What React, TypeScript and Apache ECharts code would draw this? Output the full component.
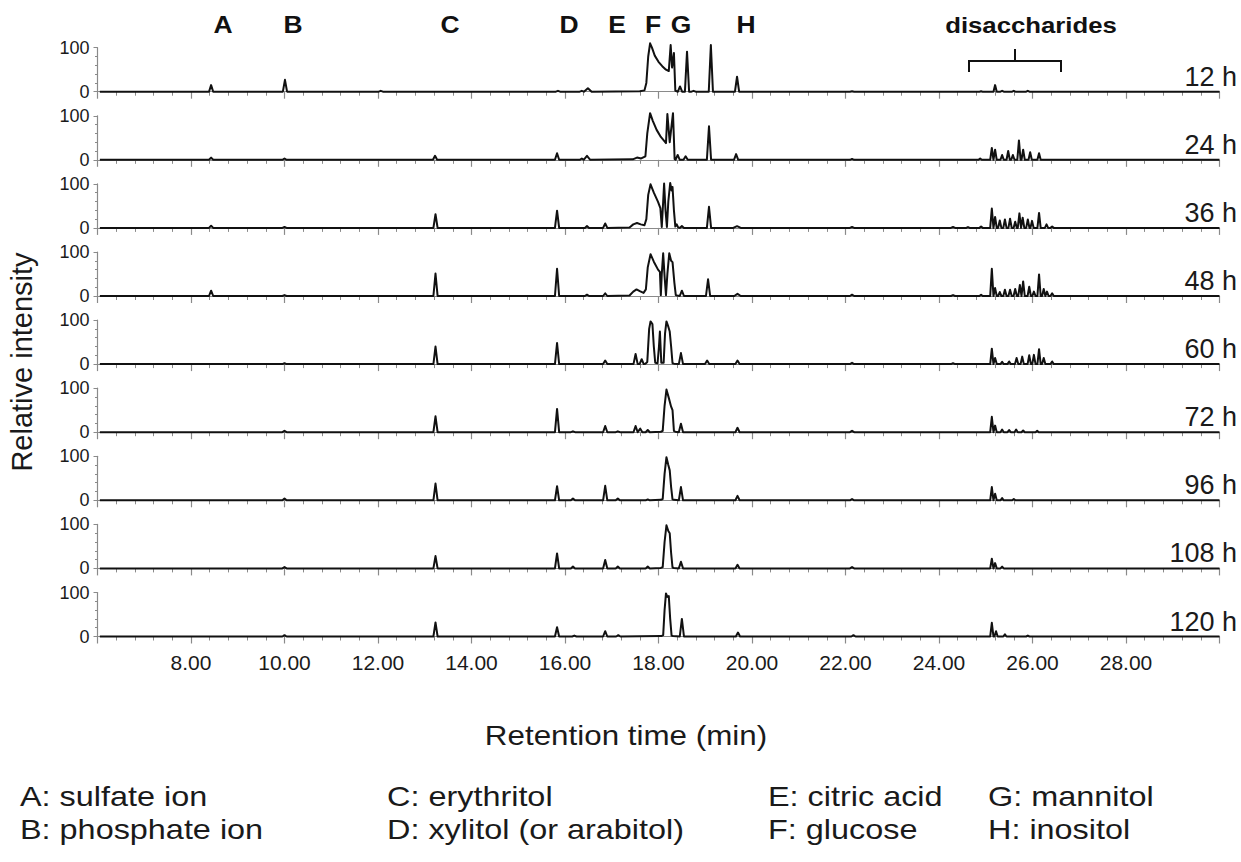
import React, { useEffect, useRef } from "react";
import * as echarts from "echarts";

type Pk = [number, number, number?];
type P = [number, number];

const panelLabels = ["12 h", "24 h", "36 h", "48 h", "60 h", "72 h", "96 h", "108 h", "120 h"];
const xLabelValues = [8, 10, 12, 14, 16, 18, 20, 22, 24, 26, 28];

// simple peaks: [time (min), relative intensity, half width]
const peaks12: Pk[] = [[8.43, 15], [10.01, 27], [12.06, 2], [15.85, 2], [16.36, 2], [16.49, 8, 0.08], [18.46, 12], [18.61, 91], [18.75, 2], [19.12, 106], [19.68, 34], [22.14, 1], [24.9, 1], [25.2, 15], [25.35, 2], [25.6, 2], [25.9, 2]];
const shape12: P[] = [[17.6, 1], [17.7, 3], [17.74, 20], [17.78, 80], [17.82, 110], [17.86, 100], [17.92, 82], [18.0, 68], [18.08, 58], [18.16, 50], [18.22, 47], [18.26, 106], [18.29, 55], [18.33, 88], [18.36, 2], [18.39, 1]];

const peaks24: Pk[] = [[8.43, 5], [10.0, 3], [13.22, 9], [15.83, 15], [16.36, 3], [16.47, 9, 0.07], [18.41, 11], [18.58, 8], [19.08, 76], [19.66, 13], [22.14, 2], [24.88, 3], [25.13, 27], [25.2, 23], [25.35, 11], [25.48, 20], [25.58, 11], [25.71, 44], [25.8, 23], [25.95, 17], [26.14, 15]];
const shape24: P[] = [[17.45, 1], [17.54, 5], [17.63, 3], [17.72, 8], [17.76, 60], [17.82, 106], [17.88, 88], [17.96, 68], [18.05, 52], [18.13, 42], [18.16, 38], [18.19, 104], [18.24, 40], [18.31, 106], [18.345, 2], [18.37, 1]];

const peaks36: Pk[] = [[8.43, 5], [10.0, 2], [13.23, 31], [15.83, 39], [16.47, 4], [16.86, 10], [18.5, 4], [19.08, 48], [19.68, 4, 0.08], [22.14, 2], [24.3, 2], [24.62, 2], [24.9, 3], [25.13, 44], [25.2, 25], [25.3, 17], [25.41, 19], [25.52, 21], [25.63, 14], [25.72, 33], [25.79, 23], [25.9, 19], [25.99, 16], [26.14, 34], [26.3, 8], [26.42, 3]];
const shape36: P[] = [[17.38, 1], [17.46, 8], [17.54, 11], [17.62, 8], [17.7, 6], [17.74, 20], [17.78, 75], [17.83, 99], [17.9, 80], [17.99, 59], [18.04, 45], [18.07, 2], [18.1, 60], [18.12, 101], [18.15, 40], [18.18, 2], [18.21, 60], [18.25, 102], [18.28, 85], [18.3, 93], [18.33, 40], [18.36, 3], [18.39, 8], [18.42, 1]];

const peaks48: Pk[] = [[8.43, 12], [10.0, 2], [13.23, 51], [15.83, 62], [16.47, 3], [16.86, 6], [18.5, 12], [19.06, 38], [19.69, 5, 0.07], [22.14, 3], [24.3, 2], [24.9, 3], [25.13, 62], [25.2, 18], [25.3, 9], [25.41, 14], [25.52, 14], [25.63, 16], [25.73, 25], [25.8, 33], [25.93, 21], [26.03, 10], [26.14, 49], [26.24, 16], [26.31, 10], [26.42, 6]];
const shape48: P[] = [[17.38, 1], [17.46, 10], [17.53, 15], [17.6, 11], [17.68, 7], [17.73, 15], [17.77, 65], [17.83, 95], [17.9, 78], [17.99, 60], [18.03, 55], [18.05, 2], [18.07, 50], [18.1, 97], [18.13, 45], [18.16, 2], [18.19, 50], [18.23, 97], [18.27, 80], [18.3, 77], [18.34, 30], [18.37, 2], [18.4, 1]];

const peaks60: Pk[] = [[10.0, 2], [13.23, 40], [15.83, 48], [16.86, 8], [17.51, 23], [17.64, 11], [18.48, 25], [19.04, 8], [19.69, 8], [22.14, 3], [24.3, 2], [25.13, 35], [25.2, 14], [25.35, 5], [25.5, 6], [25.66, 14], [25.78, 17], [25.93, 20], [26.03, 21], [26.14, 34], [26.24, 14], [26.42, 6]];
const shape60: P[] = [[17.72, 1], [17.76, 5], [17.8, 80], [17.83, 97], [17.87, 91], [17.9, 40], [17.93, 3], [17.98, 2], [18.01, 40], [18.03, 74], [18.06, 3], [18.11, 3], [18.14, 70], [18.17, 97], [18.21, 85], [18.24, 74], [18.27, 40], [18.3, 2], [18.33, 1]];

const peaks72: Pk[] = [[10.0, 3], [13.23, 36], [15.83, 53], [16.17, 2], [16.86, 14], [17.13, 2], [17.51, 14], [17.61, 8], [17.77, 5], [18.48, 19], [19.69, 10], [22.14, 3], [25.13, 35], [25.2, 15], [25.35, 6], [25.5, 5], [25.65, 6], [25.8, 4], [26.1, 3]];
const shape72: P[] = [[18.05, 1], [18.09, 3], [18.13, 60], [18.17, 97], [18.22, 78], [18.27, 58], [18.3, 50], [18.33, 3], [18.36, 1]];

const peaks96: Pk[] = [[10.0, 4], [13.23, 38], [15.83, 32], [16.17, 4], [16.86, 33], [17.13, 4], [17.77, 2], [18.48, 30], [19.69, 10], [22.14, 3], [25.13, 30], [25.2, 15], [25.35, 5], [25.6, 3]];
const shape96: P[] = [[18.05, 1], [18.09, 3], [18.13, 60], [18.17, 98], [18.21, 80], [18.24, 68], [18.27, 30], [18.3, 2], [18.33, 1]];

const peaks108: Pk[] = [[10.0, 3], [13.23, 28], [15.83, 34], [16.17, 4], [16.86, 19], [17.13, 4], [17.77, 4], [18.48, 15], [19.69, 8], [22.14, 3], [25.13, 22], [25.2, 12], [25.35, 4]];
const shape108: P[] = [[18.05, 1], [18.09, 3], [18.13, 60], [18.17, 98], [18.21, 85], [18.24, 80], [18.27, 35], [18.3, 2], [18.33, 1]];

const peaks120: Pk[] = [[10.0, 3], [13.23, 32], [15.83, 21], [16.2, 2], [16.86, 12], [17.14, 3], [18.5, 40], [19.7, 9], [22.17, 3], [25.13, 31], [25.22, 12], [25.41, 5], [25.9, 2]];
const shape120: P[] = [[18.06, 1], [18.1, 3], [18.13, 60], [18.16, 98], [18.19, 90], [18.22, 92], [18.25, 40], [18.28, 2], [18.31, 1]];

const allPeaks = [peaks12, peaks24, peaks36, peaks48, peaks60, peaks72, peaks96, peaks108, peaks120];
const allShapes = [shape12, shape24, shape36, shape48, shape60, shape72, shape96, shape108, shape120];

const compoundLabels: [string, number][] = [["A", 223], ["B", 293], ["C", 450], ["D", 569], ["E", 617], ["F", 653], ["G", 681], ["H", 746]];
const legendRows: [string, number, number][] = [
  ["A: sulfate ion", 20, 0], ["C: erythritol", 387, 0], ["E: citric acid", 768, 0], ["G: mannitol", 988, 0],
  ["B: phosphate ion", 20, 1], ["D: xylitol (or arabitol)", 387, 1], ["F: glucose", 768, 1], ["H: inositol", 988, 1],
];

const X_MIN = 6;
const X_MAX = 30;

function buildTrace(peaks: Pk[], shape: P[]): P[] {
  const pts: P[] = [[6.05, 0], [30.0, 0]];
  peaks.forEach(([t, h, w]) => {
    const hw = w ?? (t > 24.5 && t < 26.6 ? 0.035 : 0.045);
    pts.push([t - hw, 0], [t, h], [t + hw, 0]);
  });
  shape.forEach((p) => pts.push(p));
  pts.sort((a, b) => a[0] - b[0]);
  return pts;
}

const FONT = "'Liberation Sans', Arial, Helvetica, sans-serif";

export default function App() {
  const ref = useRef<HTMLDivElement>(null);
  useEffect(() => {
    document.body.style.margin = "0";
    const chart = echarts.init(ref.current!, undefined, { renderer: "svg" });
    const n = panelLabels.length;
    const base0 = 91.7;
    const step = 68.1;
    const ph = 44;
    const left = 97.5;
    const width = 1122;
    const grids: any[] = [];
    const xAxes: any[] = [];
    const yAxes: any[] = [];
    const series: any[] = [];
    const graphics: any[] = [];
    for (let i = 0; i < n; i++) {
      const baseline = base0 + i * step;
      grids.push({ left, width, top: baseline - ph, height: ph });
      xAxes.push({
        type: "value", gridIndex: i, min: X_MIN, max: X_MAX, interval: 2,
        axisLine: { show: true, lineStyle: { color: "#8a8a8a", width: 1.2 } },
        axisTick: { show: true, length: 7, lineStyle: { color: "#8a8a8a", width: 1.2 } },
        minorTick: { show: true, splitNumber: 5, length: 4, lineStyle: { color: "#8a8a8a", width: 1 } },
        splitLine: { show: false },
        axisLabel: {
          show: i === n - 1, fontSize: 21, color: "#1a1a1a", fontFamily: FONT, margin: 15,
          formatter: (v: number) => (xLabelValues.includes(v) ? v.toFixed(2) : ""),
        },
      });
      yAxes.push({
        type: "value", gridIndex: i, min: 0, max: 100, interval: 100,
        axisLine: { show: true, lineStyle: { color: "#8a8a8a", width: 1.2 } },
        axisTick: { show: true, length: 4, lineStyle: { color: "#8a8a8a" } },
        minorTick: { show: true, splitNumber: 5, length: 2.5, lineStyle: { color: "#8a8a8a" } },
        splitLine: { show: false },
        axisLabel: { fontSize: 18, color: "#1a1a1a", fontFamily: FONT, margin: 8 },
      });
      series.push({
        type: "line", xAxisIndex: i, yAxisIndex: i, showSymbol: false, symbol: "none",
        clip: false, silent: true,
        lineStyle: { color: "#111", width: 2, join: "round" },
        data: buildTrace(allPeaks[i], allShapes[i]),
      });
      graphics.push({
        type: "text", x: 1237, y: baseline - 15,
        style: { text: panelLabels[i], fontSize: 27, fontFamily: FONT, fill: "#1a1a1a", textAlign: "right", textVerticalAlign: "middle" },
      });
    }
    compoundLabels.forEach(([s, x]) => {
      graphics.push({
        type: "text", x, y: 25, scaleX: 1.15,
        style: { text: s, fontSize: 23, fontWeight: "bold", fontFamily: FONT, fill: "#111", textAlign: "center", textVerticalAlign: "middle" },
      });
    });
    graphics.push({
      type: "text", x: 1031, y: 25, scaleX: 1.17,
      style: { text: "disaccharides", fontSize: 22, fontWeight: "bold", fontFamily: FONT, fill: "#111", textAlign: "center", textVerticalAlign: "middle" },
    });
    graphics.push({
      type: "polyline",
      shape: { points: [[969, 72], [969, 61], [1061, 61], [1061, 72]] },
      style: { stroke: "#111", lineWidth: 2, fill: null },
    });
    graphics.push({
      type: "line", shape: { x1: 1015, y1: 61, x2: 1015, y2: 49 },
      style: { stroke: "#111", lineWidth: 2 },
    });
    graphics.push({
      type: "text", x: 22, y: 362, rotation: Math.PI / 2,
      style: { text: "Relative intensity", fontSize: 29, fontFamily: FONT, fill: "#1a1a1a", textAlign: "center", textVerticalAlign: "middle" },
    });
    graphics.push({
      type: "text", x: 626, y: 735, scaleX: 1.12,
      style: { text: "Retention time (min)", fontSize: 28, fontFamily: FONT, fill: "#1a1a1a", textAlign: "center", textVerticalAlign: "middle" },
    });
    legendRows.forEach(([s, x, row]) => {
      graphics.push({
        type: "text", x, y: 796 + row * 33, scaleX: 1.2,
        style: { text: s, fontSize: 27, fontFamily: FONT, fill: "#1a1a1a", textAlign: "left", textVerticalAlign: "middle" },
      });
    });

    chart.setOption({
      animation: false,
      backgroundColor: "#fff",
      grid: grids,
      xAxis: xAxes,
      yAxis: yAxes,
      series,
      graphic: graphics,
    });
    return () => chart.dispose();
  }, []);
  return <div ref={ref} style={{ width: 1241, height: 862 }} />;
}
